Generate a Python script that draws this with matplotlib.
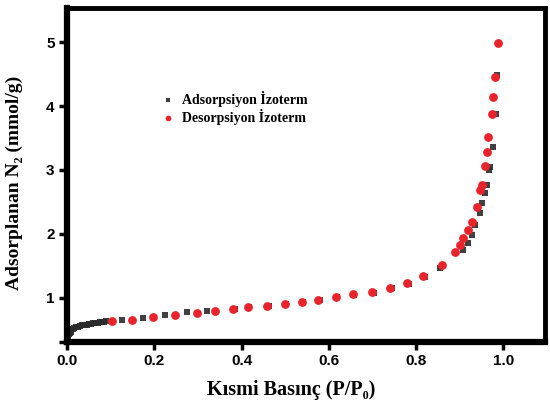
import matplotlib
matplotlib.use('Agg')
import matplotlib.pyplot as plt

# --- renkler ---
BLACK = '#2b2b2b'
RED = '#e8232b'

# --- Adsorpsiyon (siyah kareler) ---
ads_p = [0.002, 0.004, 0.006, 0.008, 0.010, 0.013, 0.016, 0.020, 0.025, 0.030, 0.035, 0.040,
         0.045, 0.050, 0.055, 0.060, 0.065, 0.070, 0.075, 0.080, 0.085, 0.090,
         0.126, 0.174, 0.225, 0.275, 0.321, 0.384, 0.418, 0.462, 0.503, 0.542, 0.579, 0.620,
         0.659, 0.703, 0.744, 0.783, 0.820, 0.855, 0.908, 0.920, 0.929, 0.936, 0.947,
         0.952, 0.959, 0.963, 0.968, 0.970, 0.977, 0.984, 0.986]
ads_v = [0.40, 0.43, 0.45, 0.47, 0.49, 0.51, 0.52, 0.54, 0.55, 0.56, 0.57, 0.575,
         0.58, 0.59, 0.595, 0.60, 0.605, 0.61, 0.615, 0.62, 0.625, 0.63,
         0.66, 0.69, 0.73, 0.78, 0.80, 0.82, 0.85, 0.865, 0.90, 0.93, 0.96, 1.01,
         1.05, 1.08, 1.15, 1.22, 1.33, 1.47, 1.75, 1.86, 1.98, 2.14, 2.33,
         2.48, 2.64, 2.77, 3.00, 3.05, 3.36, 3.88, 4.48]

# --- Desorpsiyon (kırmızı daireler) ---
des_p = [0.103, 0.149, 0.197, 0.248, 0.298, 0.339, 0.381, 0.415, 0.459, 0.500, 0.539,
         0.576, 0.617, 0.656, 0.700, 0.741, 0.780, 0.817, 0.860, 0.890, 0.901, 0.908,
         0.920, 0.929, 0.940, 0.947, 0.952, 0.959, 0.963, 0.966, 0.975, 0.977, 0.982, 0.989]
des_v = [0.63, 0.66, 0.70, 0.73, 0.77, 0.80, 0.83, 0.86, 0.875, 0.91, 0.94,
         0.97, 1.02, 1.06, 1.09, 1.16, 1.23, 1.34, 1.52, 1.72, 1.83, 1.94,
         2.06, 2.19, 2.42, 2.69, 2.77, 3.06, 3.28, 3.52, 3.88, 4.14, 4.45, 4.98]

x_ticks = [0.0, 0.2, 0.4, 0.6, 0.8, 1.0]
y_ticks = [1, 2, 3, 4, 5]

SERIF = ['Liberation Serif', 'DejaVu Serif']
SANS = ['Liberation Sans', 'DejaVu Sans']

fig = plt.figure(figsize=(5.5, 4.09), dpi=100)
ax = fig.add_axes([0.122, 0.164, 0.869, 0.816])

ax.scatter(ads_p, ads_v, marker='s', s=22, color=BLACK, alpha=0.9, linewidths=0,
           label='Adsorpsiyon İzoterm', zorder=2)
ax.scatter(des_p, des_v, marker='o', s=40, color=RED, linewidths=0,
           label='Desorpsiyon İzoterm', zorder=3)

ax.set_xlim(0.0, 1.096)
ax.set_ylim(0.31, 5.53)
ax.set_xticks(x_ticks)
ax.set_xticklabels([f'{t:.1f}' for t in x_ticks])
ax.set_yticks([0.31] + y_ticks)
ax.set_yticklabels([''] + [str(t) for t in y_ticks])

for lab in ax.get_xticklabels() + ax.get_yticklabels():
    lab.set_family(SANS)
    lab.set_fontweight('bold')
    lab.set_fontsize(11)

ax.tick_params(direction='out', length=6, width=2.5, pad=3)
for spine in ax.spines.values():
    spine.set_linewidth(3.5)
ax.spines['left'].set_linewidth(4.5)
ax.spines['bottom'].set_linewidth(4.5)

ax.set_xlabel('Kısmi Basınç (P/P₀)', family=SERIF, fontweight='bold', fontsize=14.5)
ax.xaxis.set_label_coords(0.469, -0.115)
ax.set_ylabel('Adsorplanan N₂ (mmol/g)', family=SERIF, fontweight='bold', fontsize=14)
ax.yaxis.label.set_va('center')
ax.yaxis.set_label_coords(-0.11, 0.476)

leg = ax.legend(loc='center left', bbox_to_anchor=(0.199, 0.702), frameon=False,
                prop={'family': SERIF, 'weight': 'bold', 'size': 10},
                handlelength=0.8, handletextpad=0.6, labelspacing=0.15,
                markerscale=0.65, borderpad=0, borderaxespad=0)

fig.savefig('out.png', dpi=100)
